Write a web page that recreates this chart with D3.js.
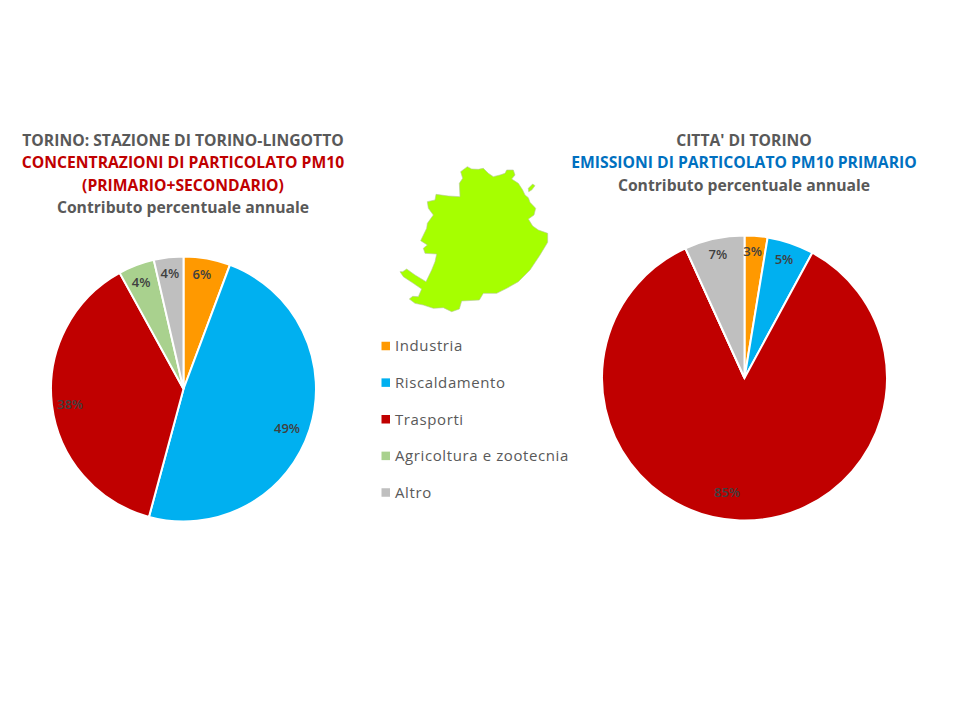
<!DOCTYPE html>
<html>
<head>
<meta charset="utf-8">
<script src="https://d3js.org/d3.v7.min.js"></script>
<style>
  html, body { margin: 0; background: #fff; }
  text { font-family: "Open Sans", sans-serif; }
</style>
</head>
<body>
<svg id="chart" width="960" height="720"></svg>
<script>
const categories = ["Industria", "Riscaldamento", "Trasporti", "Agricoltura e zootecnia", "Altro"];
const colors = ["#ff9900", "#00b0f0", "#c00000", "#a9d18e", "#bfbfbf"];

// slice sizes, labels as printed
const lingottoValues = [5.7, 48.5, 37.8, 4.4, 3.6];
const lingottoLabels = ["6%", "49%", "38%", "4%", "4%"];
const cittaValues = [2.6, 5.3, 85.3, 0, 6.8];
const cittaLabels = ["3%", "5%", "85%", "", "7%"];

const lingottoTitle = [
  ["TORINO: STAZIONE DI TORINO-LINGOTTO", "#595959"],
  ["CONCENTRAZIONI DI PARTICOLATO PM10", "#c00000"],
  ["(PRIMARIO+SECONDARIO)", "#c00000"],
  ["Contributo percentuale annuale", "#595959"]
];
const cittaTitle = [
  ["CITTA' DI TORINO", "#595959"],
  ["EMISSIONI DI PARTICOLATO PM10 PRIMARIO", "#0070c0"],
  ["Contributo percentuale annuale", "#595959"]
];

// outline of the city, traced on a 510 x 495 grid
const mapOutline = [[232,35],[245,42],[265,43],[280,40],[295,55],[310,65],[330,60],[345,55],[350,45],[370,45],[375,60],[365,72],[385,85],[398,105],[405,120],[415,128],[420,142],[437,160],[432,180],[415,192],[428,213],[445,225],[473,235],[473,262],[450,300],[420,345],[385,380],[350,400],[320,415],[280,415],[268,435],[215,438],[208,462],[185,470],[160,458],[130,460],[100,450],[75,445],[58,432],[68,424],[85,425],[95,402],[70,385],[40,365],[30,350],[38,350],[50,342],[75,360],[108,380],[125,345],[135,320],[140,297],[105,295],[100,280],[112,270],[92,257],[110,220],[112,205],[130,180],[115,160],[112,140],[135,135],[138,118],[175,123],[210,125],[208,85],[218,70],[212,50]];
const mapIsland = [[415,100],[428,87],[435,92],[425,105],[416,110]];

const svg = d3.select("#chart");
const color = d3.scaleOrdinal(categories, colors);

function drawTitle(lines, cx, firstY) {
  svg.append("g").selectAll("text")
    .data(lines)
    .join("text")
    .attr("x", cx)
    .attr("y", (d, i) => firstY + i * 22.6)
    .attr("text-anchor", "middle")
    .attr("font-size", 15.7)
    .attr("font-weight", 700)
    .attr("fill", d => d[1])
    .text(d => d[0]);
}

// labelRadius and labelTurn (degrees) place each label relative to its slice middle
function drawPie(values, labels, cx, cy, r, labelRadius, labelTurn) {
  const pie = d3.pie().sort(null).value(d => d.value);
  const arc = d3.arc().innerRadius(0).outerRadius(r);
  const rows = categories.map((c, i) => ({ name: c, value: values[i], label: labels[i], off: labelRadius[i], turn: labelTurn[i] }));
  const g = svg.append("g").attr("transform", `translate(${cx},${cy})`);

  g.selectAll("path")
    .data(pie(rows))
    .join("path")
    .attr("d", arc)
    .attr("fill", d => color(d.data.name))
    .attr("stroke", "#fff")
    .attr("stroke-width", 2);

  g.selectAll("text")
    .data(pie(rows))
    .join("text")
    .attr("transform", d => {
      const a = (d.startAngle + d.endAngle) / 2 + d.data.turn * Math.PI / 180;
      return `translate(${Math.sin(a) * d.data.off},${-Math.cos(a) * d.data.off})`;
    })
    .attr("text-anchor", "middle")
    .attr("dy", "0.35em")
    .attr("font-size", 13)
    .attr("font-weight", 600)
    .attr("fill", "#404040")
    .text(d => d.data.label);
}

drawTitle(lingottoTitle, 183, 145.5);
drawTitle(cittaTitle, 744, 145.5);

drawPie(lingottoValues, lingottoLabels, 183.5, 389, 132.5, [116.5, 110.6, 114.5, 115, 116.5], [-1.2, 2.8, -0.7, -0.7, -0.2]);
drawPie(cittaValues, cittaLabels, 744.5, 378, 142.5, [127.3, 125, 116, 0, 126.5], [-1, -0.5, 6.7, 0, 0.1]);

// city map
const mapX = d3.scaleLinear().domain([0, 510]).range([390, 560]);
const mapY = d3.scaleLinear().domain([0, 495]).range([155, 320]);
const mapLine = d3.line().x(d => mapX(d[0])).y(d => mapY(d[1])).curve(d3.curveLinearClosed);
svg.append("g").selectAll("path")
  .data([mapOutline, mapIsland])
  .join("path")
  .attr("d", mapLine)
  .attr("fill", "#a6ff00")
  .attr("stroke", "#b5c79a")
  .attr("stroke-width", 0.6);

// legend
const legendY = d3.scalePoint().domain(categories).range([346, 492.5]);
const legend = svg.append("g").selectAll("g")
  .data(categories)
  .join("g")
  .attr("transform", d => `translate(381.5,${legendY(d)})`);
legend.append("rect")
  .attr("y", -4.25)
  .attr("width", 8.5)
  .attr("height", 8.5)
  .attr("fill", d => color(d));
legend.append("text")
  .attr("x", 13.5)
  .attr("dy", "0.35em")
  .attr("font-size", 15)
  .attr("letter-spacing", 0.6)
  .attr("fill", "#595959")
  .text(d => d);
</script>
</body>
</html>
